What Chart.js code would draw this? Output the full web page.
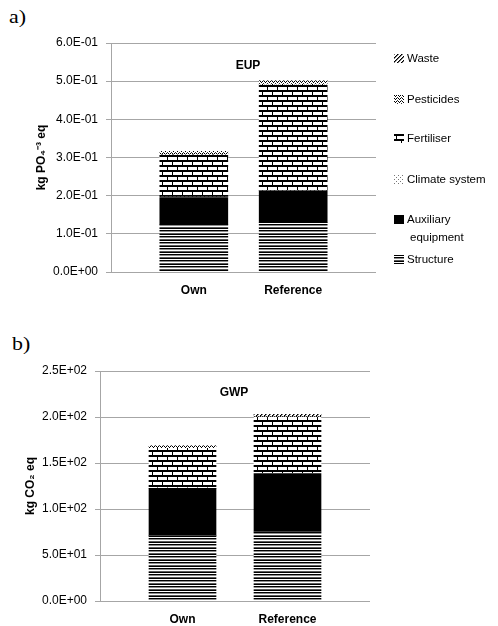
<!DOCTYPE html>
<html>
<head>
<meta charset="utf-8">
<script src="https://cdn.jsdelivr.net/npm/chart.js@4.4.1/dist/chart.umd.min.js"></script>
<style>
  html, body { margin: 0; padding: 0; background: #fff; }
  body { width: 498px; height: 626px; position: relative; overflow: hidden; font-family: "Liberation Sans", Arial, sans-serif; color: #000; }
  canvas { position: absolute; left: 0; }
  #chartA { top: 0; }
  #chartB { top: 320px; }
  .tag { position: absolute; font-family: "Liberation Serif", "Times New Roman", serif; font-size: 19px; line-height: 20px; font-weight: normal; transform: scaleX(1.15); transform-origin: left top; }
  .ttl { position: absolute; font-weight: bold; font-size: 12px; line-height: 14px; transform: translateX(-50%); }
  .lg { position: absolute; left: 394px; font-size: 11.5px; line-height: 14px; white-space: nowrap; }
  .lg canvas { position: absolute; left: 0; top: 3px; }
  .lg span { position: absolute; left: 13px; top: 0; }
</style>
</head>
<body>
<div class="tag" style="left:9px;top:7px">a)</div>
<div class="tag" style="left:12px;top:334px">b)</div>
<canvas id="chartA" width="498" height="300"></canvas>
<canvas id="chartB" width="498" height="306"></canvas>
<div class="ttl" style="left:248px;top:58px">EUP</div>
<div class="ttl" style="left:234px;top:385px">GWP</div>
<div id="legend"></div>
<script>
(function () {
  const $ = (id) => document.getElementById(id);
  const FONT = '"Liberation Sans", Arial, sans-serif';

  const groups = ["Own", "Reference"];
  const seriesNames = ["Structure", "Auxiliary equipment", "Climate system", "Fertiliser", "Pesticides", "Waste"];
  const seriesFills = ["lines", "solid", "dots", "brick", "speckle", "hatch"];

  // a) EUP, kg PO4-3 eq
  const eupStructure  = [0.125, 0.129];
  const eupAuxiliary  = [0.070, 0.083];
  const eupClimate    = [0.001, 0.001];
  const eupFertiliser = [0.111, 0.278];
  const eupPesticides = [0.009, 0.010];
  const eupWaste      = [0.000, 0.000];
  const eupTicks = [0, 0.1, 0.2, 0.3, 0.4, 0.5, 0.6];

  // b) GWP, kg CO2 eq
  const gwpStructure  = [71, 75];
  const gwpAuxiliary  = [51.5, 63.4];
  const gwpClimate    = [0.5, 0.5];
  const gwpFertiliser = [43, 61];
  const gwpPesticides = [3, 0.5];
  const gwpWaste      = [0, 2.6];
  const gwpTicks = [0, 50, 100, 150, 200, 250];

  const sci = (v) => {
    if (!v) return "0.0E+00";
    let e = Math.floor(Math.log10(Math.abs(v)) + 1e-9);
    let m = (v / Math.pow(10, e)).toFixed(1);
    if (m === "10.0") { e += 1; m = "1.0"; }
    return m + "E" + (e < 0 ? "-" : "+") + String(Math.abs(e)).padStart(2, "0");
  };

  // small pixel tiles for the black & white fills
  function tile(kind) {
    const t = document.createElement("canvas");
    const g = t.getContext("2d");
    const px = (x, y, c) => { g.fillStyle = c; g.fillRect(x, y, 1, 1); };
    if (kind === "lines") {
      const rows = ["#000", "#fff", "#000", "#8c8c8c", "#fff", "#5a5a5a"];
      t.width = 4; t.height = rows.length;
      rows.forEach((c, i) => { g.fillStyle = c; g.fillRect(0, i, 4, 1); });
    } else if (kind === "brick") {
      t.width = 10; t.height = 10;
      g.fillStyle = "#fff"; g.fillRect(0, 0, 10, 10);
      g.fillStyle = "#000";
      g.fillRect(0, 0, 10, 2); g.fillRect(2, 2, 1, 3);
      g.fillRect(0, 5, 10, 2); g.fillRect(7, 7, 1, 3);
    } else if (kind === "speckle") {
      t.width = 4; t.height = 3;
      g.fillStyle = "#fff"; g.fillRect(0, 0, 4, 3);
      px(0, 0, "#000"); px(2, 0, "#000"); px(1, 1, "#000"); px(3, 2, "#333");
    } else if (kind === "hatch") {
      t.width = 4; t.height = 4;
      g.fillStyle = "#fff"; g.fillRect(0, 0, 4, 4);
      px(3, 0, "#000"); px(2, 1, "#000"); px(1, 2, "#000"); px(0, 3, "#000");
      px(0, 0, "#777"); px(3, 1, "#777"); px(2, 2, "#777"); px(1, 3, "#777");
    } else if (kind === "dots") {
      t.width = 4; t.height = 4;
      g.fillStyle = "#fff"; g.fillRect(0, 0, 4, 4);
      px(0, 0, "#777"); px(2, 2, "#777");
    }
    return t;
  }
  function fillFor(ctx, kind) {
    if (kind === "solid") return "#000";
    return ctx.createPattern(tile(kind), "repeat");
  }

  // the category axis is split into equal slots; the two groups sit in two of them
  function build(id, values, yTicks, yTitle, box) {
    const ctx = $(id).getContext("2d");
    const labels = new Array(box.slots).fill("");
    box.at.forEach((s, i) => { labels[s] = groups[i]; });
    const place = (vals) => {
      const out = new Array(box.slots).fill(null);
      box.at.forEach((s, i) => { out[s] = vals[i]; });
      return out;
    };
    return new Chart(ctx, {
      type: "bar",
      data: {
        labels,
        datasets: values.map((vals, k) => ({
          label: seriesNames[k],
          data: place(vals),
          backgroundColor: fillFor(ctx, seriesFills[k]),
          borderWidth: 0,
          barThickness: box.barW,
        })),
      },
      options: {
        responsive: false,
        animation: false,
        layout: { padding: { top: box.top, right: box.right, left: 0, bottom: 0 } },
        plugins: { legend: { display: false }, tooltip: { enabled: false } },
        scales: {
          x: {
            stacked: true,
            grid: { display: false, drawTicks: false }, border: { display: false },
            afterFit: (s) => { s.height = box.xH; },
            ticks: {
              font: { family: FONT, size: 12, weight: "bold" }, color: "#000",
              padding: 11, maxRotation: 0, autoSkip: false,
            },
          },
          y: {
            stacked: true, min: 0, max: yTicks[yTicks.length - 1],
            afterBuildTicks: (s) => { s.ticks = yTicks.map((v) => ({ value: v })); },
            afterFit: (s) => { s.width = box.yW; },
            grid: { color: "#a6a6a6", tickLength: 5 },
            border: { color: "#a6a6a6" },
            ticks: { callback: sci, font: { family: FONT, size: 12 }, color: "#000", padding: 8 },
            title: {
              display: true, text: yTitle, color: "#000",
              font: { family: FONT, size: 12, weight: "bold" },
              padding: { top: box.titlePad, bottom: 0 },
            },
          },
        },
      },
    });
  }

  build("chartA",
    [eupStructure, eupAuxiliary, eupClimate, eupFertiliser, eupPesticides, eupWaste],
    eupTicks, "kg PO\u2084\u207B\u00B3 eq",
    { top: 43, right: 122, yW: 111, xH: 28, barW: 68, slots: 8, at: [2, 5], titlePad: 34 });

  build("chartB",
    [gwpStructure, gwpAuxiliary, gwpClimate, gwpFertiliser, gwpPesticides, gwpWaste],
    gwpTicks, "kg CO\u2082 eq",
    { top: 51, right: 128, yW: 100, xH: 25, barW: 67, slots: 18, at: [5, 12], titlePad: 23 });

  // legend (top chart only), listed top-down
  const legendTops = [51, 92, 131, 172, 212, 252];
  const order = [5, 4, 3, 2, 1, 0];
  const box = $("legend");
  order.forEach((k, n) => {
    const row = document.createElement("div");
    row.className = "lg";
    row.style.top = legendTops[n] + "px";
    const sw = document.createElement("canvas");
    sw.width = 10; sw.height = 9;
    const sctx = sw.getContext("2d");
    sctx.fillStyle = fillFor(sctx, seriesFills[k]);
    sctx.fillRect(0, 0, 10, 9);
    row.appendChild(sw);
    const txt = document.createElement("span");
    const name = seriesNames[k];
    if (name === "Auxiliary equipment") {
      txt.innerHTML = "Auxiliary<br><span style=\"position:static;margin-left:3px;line-height:18px\">equipment</span>";
      txt.style.lineHeight = "18px";
      txt.style.top = "-2px";
    } else {
      txt.textContent = name;
    }
    row.appendChild(txt);
    box.appendChild(row);
  });
})();
</script>
</body>
</html>
